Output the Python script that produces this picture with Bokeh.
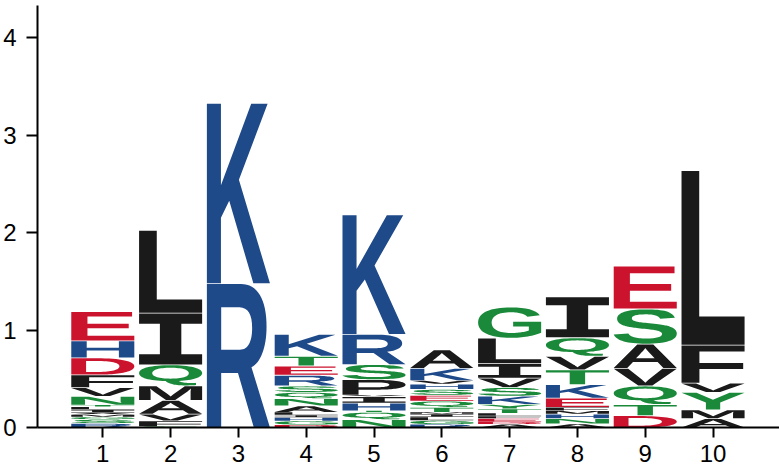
import os
import struct
from bokeh.plotting import figure
from bokeh.models import ColumnDataSource, FixedTicker, Range1d
from bokeh.embed import file_html
from bokeh.resources import INLINE

# ---------------- data (bottom -> top within each position) ----------------
positions = [1, 2, 3, 4, 5, 6, 7, 8, 9, 10]

letters_1 = ["R", "S", "G", "M", "A", "I", "L", "T", "N", "V", "F", "D", "H", "E"]
heights_1 = [0.045, 0.04, 0.025, 0.025, 0.02, 0.03, 0.03, 0.018, 0.09, 0.09, 0.13, 0.175, 0.175, 0.30]

letters_2 = ["S", "F", "V", "A", "M", "Q", "I", "L"]
heights_2 = [0.012, 0.06, 0.07, 0.14, 0.15, 0.215, 0.53, 0.85]

letters_3 = ["R", "K"]
heights_3 = [1.48, 1.85]

letters_4 = ["D", "G", "H", "I", "L", "A", "N", "Q", "S", "R", "E", "T", "K"]
heights_4 = [0.03, 0.04, 0.035, 0.025, 0.03, 0.065, 0.075, 0.065, 0.065, 0.11, 0.095, 0.10, 0.225]

letters_5 = ["N", "Q", "T", "H", "I", "V", "P", "S", "R", "K"]
heights_5 = [0.085, 0.075, 0.015, 0.08, 0.065, 0.015, 0.16, 0.155, 0.31, 1.225]

letters_6 = ["R", "G", "L", "I", "M", "T", "Q", "E", "S", "H", "V", "K", "A"]
heights_6 = [0.035, 0.04, 0.035, 0.03, 0.02, 0.05, 0.065, 0.06, 0.06, 0.055, 0.035, 0.125, 0.19]

letters_7 = ["A", "D", "E", "F", "L", "T", "Y", "K", "S", "V", "I", "L", "G"]
heights_7 = [0.035, 0.025, 0.035, 0.025, 0.03, 0.045, 0.045, 0.085, 0.09, 0.095, 0.15, 0.26, 0.32]

letters_8 = ["A", "N", "H", "M", "F", "E", "K", "T", "V", "Q", "I"]
heights_8 = [0.04, 0.055, 0.045, 0.035, 0.035, 0.095, 0.14, 0.15, 0.14, 0.19, 0.42]

letters_9 = ["D", "T", "Q", "V", "A", "S", "E"]
heights_9 = [0.125, 0.115, 0.19, 0.18, 0.25, 0.36, 0.44]

letters_10 = ["A", "M", "Y", "V", "F", "L"]
heights_10 = [0.095, 0.09, 0.18, 0.095, 0.39, 1.79]

y_ticks = [0, 1, 2, 3, 4]

columns = [
    (letters_1, heights_1), (letters_2, heights_2), (letters_3, heights_3),
    (letters_4, heights_4), (letters_5, heights_5), (letters_6, heights_6),
    (letters_7, heights_7), (letters_8, heights_8), (letters_9, heights_9),
    (letters_10, heights_10),
]

# ---------------- style ----------------
RED, BLUE, GREEN, BLACK = "#CC132E", "#1F4A8A", "#1A8A3A", "#1A1A1A"
color_of = {}
for c in "AVLIPWFMC":
    color_of[c] = BLACK
for c in "GSTYQN":
    color_of[c] = GREEN
for c in "KRH":
    color_of[c] = BLUE
for c in "DE":
    color_of[c] = RED

LETTER_WIDTH = 0.93


# ---------------- minimal TrueType outline reader ----------------
def find_font():
    files = []
    for root in ["/usr/share/fonts", "/usr/local/share/fonts", os.path.expanduser("~/.fonts"),
                 os.path.expanduser("~/.local/share/fonts")]:
        for dp, dn, fn in os.walk(root):
            for f in fn:
                files.append(os.path.join(dp, f))
    for name in ["LiberationSans-Bold.ttf", "Arimo-Bold.ttf", "DejaVuSans-Bold.ttf", "Roboto-Bold.ttf"]:
        for f in files:
            if os.path.basename(f) == name:
                return f
    for f in files:
        if f.lower().endswith(".ttf") and "bold" in f.lower():
            return f
    return None


class Font:
    def __init__(self, path):
        d = open(path, "rb").read()
        self.d = d
        n = struct.unpack(">H", d[4:6])[0]
        t = {}
        for i in range(n):
            tag, cs, off, ln = struct.unpack(">4sLLL", d[12 + 16 * i:28 + 16 * i])
            t[tag.decode("latin1")] = (off, ln)
        self.t = t
        head = t["head"][0]
        self.loc_fmt = struct.unpack(">h", d[head + 50:head + 52])[0]
        maxp = t["maxp"][0]
        self.ng = struct.unpack(">H", d[maxp + 4:maxp + 6])[0]
        lo = t["loca"][0]
        if self.loc_fmt == 0:
            self.loca = [v * 2 for v in struct.unpack(">%dH" % (self.ng + 1), d[lo:lo + 2 * (self.ng + 1)])]
        else:
            self.loca = list(struct.unpack(">%dL" % (self.ng + 1), d[lo:lo + 4 * (self.ng + 1)]))
        self.glyf = t["glyf"][0]
        self._cmap()

    def _cmap(self):
        d = self.d
        co = self.t["cmap"][0]
        nt = struct.unpack(">H", d[co + 2:co + 4])[0]
        self.sub = None
        for i in range(nt):
            pid, eid, off = struct.unpack(">HHL", d[co + 4 + 8 * i:co + 12 + 8 * i])
            fmt = struct.unpack(">H", d[co + off:co + off + 2])[0]
            if fmt == 4 and (pid, eid) in [(3, 1), (0, 3), (0, 4), (0, 1), (0, 0)]:
                self.sub = co + off
                break

    def gid(self, ch):
        d = self.d
        s = self.sub
        c = ord(ch)
        segx2 = struct.unpack(">H", d[s + 6:s + 8])[0]
        seg = segx2 // 2
        ends = struct.unpack(">%dH" % seg, d[s + 14:s + 14 + segx2])
        sp = s + 16 + segx2
        starts = struct.unpack(">%dH" % seg, d[sp:sp + segx2])
        dp = sp + segx2
        deltas = struct.unpack(">%dh" % seg, d[dp:dp + segx2])
        rp = dp + segx2
        ranges = struct.unpack(">%dH" % seg, d[rp:rp + segx2])
        for i in range(seg):
            if ends[i] >= c:
                if starts[i] > c:
                    return 0
                if ranges[i] == 0:
                    return (c + deltas[i]) & 0xFFFF
                addr = rp + 2 * i + ranges[i] + 2 * (c - starts[i])
                g = struct.unpack(">H", d[addr:addr + 2])[0]
                return (g + deltas[i]) & 0xFFFF if g else 0
        return 0

    def contours(self, gid):
        d = self.d
        off, end = self.loca[gid], self.loca[gid + 1]
        if end == off:
            return []
        g = self.glyf + off
        nc = struct.unpack(">h", d[g:g + 2])[0]
        p = g + 10
        if nc >= 0:
            endpts = struct.unpack(">%dH" % nc, d[p:p + 2 * nc])
            p += 2 * nc
            il = struct.unpack(">H", d[p:p + 2])[0]
            p += 2 + il
            npts = endpts[-1] + 1 if nc else 0
            flags = []
            while len(flags) < npts:
                f = d[p]
                p += 1
                flags.append(f)
                if f & 8:
                    r = d[p]
                    p += 1
                    flags.extend([f] * r)
            xs, x = [], 0
            for f in flags:
                if f & 2:
                    v = d[p]
                    p += 1
                    x += v if f & 16 else -v
                elif not f & 16:
                    x += struct.unpack(">h", d[p:p + 2])[0]
                    p += 2
                xs.append(x)
            ys, y = [], 0
            for f in flags:
                if f & 4:
                    v = d[p]
                    p += 1
                    y += v if f & 32 else -v
                elif not f & 32:
                    y += struct.unpack(">h", d[p:p + 2])[0]
                    p += 2
                ys.append(y)
            out, s = [], 0
            for e in endpts:
                out.append([(xs[i], ys[i], flags[i] & 1) for i in range(s, e + 1)])
                s = e + 1
            return out
        out = []
        more = True
        while more:
            fl, gi = struct.unpack(">HH", d[p:p + 4])
            p += 4
            if fl & 1:
                a1, a2 = struct.unpack(">hh", d[p:p + 4])
                p += 4
            else:
                a1, a2 = struct.unpack(">bb", d[p:p + 2])
                p += 2
            a, b, c, dd = 1.0, 0.0, 0.0, 1.0
            if fl & 8:
                a = dd = struct.unpack(">h", d[p:p + 2])[0] / 16384.0
                p += 2
            elif fl & 0x40:
                a, dd = [v / 16384.0 for v in struct.unpack(">hh", d[p:p + 4])]
                p += 4
            elif fl & 0x80:
                a, b, c, dd = [v / 16384.0 for v in struct.unpack(">hhhh", d[p:p + 8])]
                p += 8
            dx, dy = (a1, a2) if fl & 2 else (0, 0)
            for cnt in self.contours(gi):
                out.append([(a * x + c * y + dx, b * x + dd * y + dy, on) for x, y, on in cnt])
            more = bool(fl & 0x20)
        return out


def flatten(cnt, steps=8):
    pts = list(cnt)
    if not any(p[2] for p in pts):
        m = ((pts[-1][0] + pts[0][0]) / 2.0, (pts[-1][1] + pts[0][1]) / 2.0, 1)
        pts = [m] + pts
    else:
        k = next(i for i, p in enumerate(pts) if p[2])
        pts = pts[k:] + pts[:k]
    out = [(pts[0][0], pts[0][1])]
    cur = pts[0]
    ctrl = None

    def quad(p0, p1, p2):
        for s in range(1, steps + 1):
            t = s / float(steps)
            u = 1 - t
            out.append((u * u * p0[0] + 2 * u * t * p1[0] + t * t * p2[0],
                        u * u * p0[1] + 2 * u * t * p1[1] + t * t * p2[1]))

    for q in pts[1:] + [pts[0]]:
        if q[2]:
            if ctrl is None:
                out.append((q[0], q[1]))
            else:
                quad(cur, ctrl, q)
                ctrl = None
            cur = q
        else:
            if ctrl is None:
                ctrl = q
            else:
                m = ((ctrl[0] + q[0]) / 2.0, (ctrl[1] + q[1]) / 2.0, 1)
                quad(cur, ctrl, m)
                cur = m
                ctrl = q
    return out


def area(r):
    s = 0.0
    for i in range(len(r)):
        x1, y1 = r[i]
        x2, y2 = r[(i + 1) % len(r)]
        s += x1 * y2 - x2 * y1
    return s / 2.0


def inside(pt, r):
    x, y = pt
    c = False
    n = len(r)
    for i in range(n):
        x1, y1 = r[i]
        x2, y2 = r[(i + 1) % n]
        if (y1 > y) != (y2 > y):
            xi = x1 + (y - y1) * (x2 - x1) / (y2 - y1)
            if xi > x:
                c = not c
    return c


def unit_polys(rings):
    allx = [x for r in rings for x, y in r]
    ally = [y for r in rings for x, y in r]
    x0, x1, y0, y1 = min(allx), max(allx), min(ally), max(ally)
    rings = [[((x - x0) / (x1 - x0), (y - y0) / (y1 - y0)) for x, y in r] for r in rings]
    areas = [area(r) for r in rings]
    big = max(range(len(rings)), key=lambda i: abs(areas[i]))
    sign = 1 if areas[big] > 0 else -1
    outers = [i for i in range(len(rings)) if areas[i] * sign > 0]
    polys = {i: [rings[i]] for i in outers}
    for i in range(len(rings)):
        if i in polys:
            continue
        host = outers[0]
        for o in outers:
            if inside(rings[i][0], rings[o]):
                host = o
                break
        polys[host].append(rings[i])
    return [polys[i] for i in outers]


I_SHAPE = [[[(0, 0), (1, 0), (1, 0.2), (0.67, 0.2), (0.67, 0.8), (1, 0.8), (1, 1),
              (0, 1), (0, 0.8), (0.33, 0.8), (0.33, 0.2), (0, 0.2)]]]

font_path = find_font()
font = Font(font_path) if font_path else None
shape_cache = {}


def shape(ch):
    if ch not in shape_cache:
        if ch == "I":
            shape_cache[ch] = I_SHAPE
        elif font is not None:
            cs = font.contours(font.gid(ch))
            shape_cache[ch] = unit_polys([flatten(c) for c in cs])
        else:
            shape_cache[ch] = [[[(0, 0), (1, 0), (1, 1), (0, 1)]]]
    return shape_cache[ch]


# ---------------- build glyph data ----------------
XS, YS, COLS = [], [], []
for pos, (lets, hts) in zip(positions, columns):
    bottom = 0.0
    for ch, h in zip(lets, hts):
        gap = min(0.008, h * 0.15)
        top = bottom + h - gap
        left = pos - LETTER_WIDTH / 2.0
        gx, gy = [], []
        for poly in shape(ch):
            gx.append([[left + ux * LETTER_WIDTH for ux, uy in ring] for ring in poly])
            gy.append([[bottom + uy * (top - bottom) for ux, uy in ring] for ring in poly])
        XS.append(gx)
        YS.append(gy)
        COLS.append(color_of.get(ch, BLACK))
        bottom += h

src = ColumnDataSource(dict(xs=XS, ys=YS, color=COLS))

p = figure(width=779, height=472, output_backend="svg", toolbar_location=None,
           x_range=Range1d(0.037, 10.98), y_range=Range1d(0, 4.33),
           min_border_left=35, min_border_right=0, min_border_top=5, min_border_bottom=45)
p.multi_polygons(xs="xs", ys="ys", fill_color="color", line_color=None, source=src)

p.outline_line_color = None
p.xgrid.visible = False
p.ygrid.visible = False
p.background_fill_color = "white"
p.border_fill_color = "white"

for ax in (p.xaxis[0], p.yaxis[0]):
    ax.axis_line_width = 2
    ax.axis_line_color = "black"
    ax.major_tick_line_width = 2
    ax.major_tick_line_color = "black"
    ax.minor_tick_line_color = None
    ax.major_tick_in = 0
    ax.major_label_text_font = "Liberation Sans"
    ax.major_label_text_font_size = "24px"
    ax.major_label_text_color = "black"

p.xaxis.ticker = FixedTicker(ticks=positions)
p.yaxis.ticker = FixedTicker(ticks=y_ticks)
p.xaxis.major_tick_out = 10
p.yaxis.major_tick_out = 11
p.xaxis.major_label_standoff = 7
p.yaxis.major_label_standoff = 10

open("out.html", "w").write(file_html(p, INLINE))
